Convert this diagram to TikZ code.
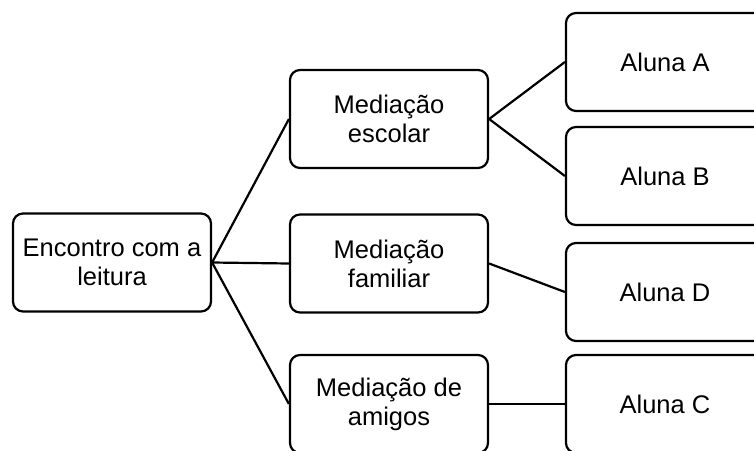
\documentclass[tikz,border=0pt]{standalone}
\usepackage{fontspec}
\setmainfont{Liberation Sans}
\begin{document}
\begin{tikzpicture}[x=1pt,y=-1pt,
  box/.style={draw=black,line width=2.2pt,rounded corners=10pt,minimum width=198pt,minimum height=98pt,align=center,inner sep=0pt,font=\fontsize{25.5}{29}\selectfont},
  link/.style={draw=black,line width=2.2pt}]
\useasboundingbox (0,0) rectangle (754,450);
\clip (0,0) rectangle (754,450);
\node[box] (enc) at (112,262.5) {Encontro com a\\leitura};
\node[box] (mesc) at (389,119) {Mediação\\escolar};
\node[box] (mfam) at (389,263.5) {Mediação\\familiar};
\node[box] (mami) at (389,404) {Mediação de\\amigos};
\node[box] (aa) at (665,62) {Aluna A};
\node[box] (ab) at (665,176) {Aluna B};
\node[box] (ad) at (665,292) {Aluna D};
\node[box] (ac) at (665,404) {Aluna C};
\draw[link] (enc.east) -- (mesc.west);
\draw[link] (enc.east) -- (mfam.west);
\draw[link] (enc.east) -- (mami.west);
\draw[link] (mesc.east) -- (aa.west);
\draw[link] (mesc.east) -- (ab.west);
\draw[link] (mfam.east) -- (ad.west);
\draw[link] (mami.east) -- (ac.west);
\end{tikzpicture}
\end{document}
